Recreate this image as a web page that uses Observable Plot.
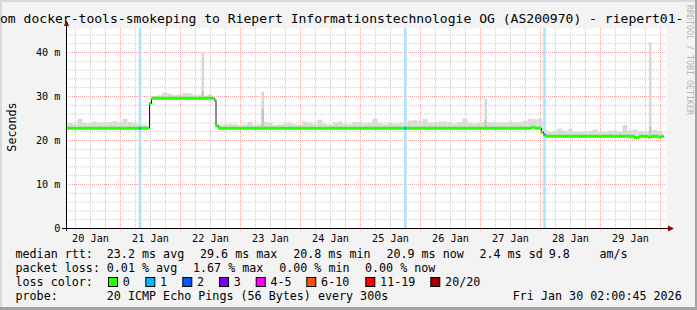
<!DOCTYPE html>
<html><head><meta charset="utf-8">
<script src="https://cdn.jsdelivr.net/npm/d3@7"></script>
<script src="https://cdn.jsdelivr.net/npm/@observablehq/plot@0.6"></script>
<style>
html,body{margin:0;padding:0;background:#f3f3f3;}
#chart{width:697px;height:310px;overflow:hidden;position:relative;}
svg{display:block;}
</style></head><body><div id="chart"></div>
<script>
// ---------- data ----------
const T0 = Date.UTC(2026, 0, 20, 0, 0, 0);      // 20 Jan 00:00
const HOUR = 3600e3;
const hour = h => new Date(T0 + h * HOUR);

const titleText = "om docker-tools-smokeping to Riepert Informationstechnologie OG (AS200970) - riepert01-";
const yAxisTitle = "Seconds";
const dayLabels = ["20 Jan","21 Jan","22 Jan","23 Jan","24 Jan","25 Jan","26 Jan","27 Jan","28 Jan","29 Jan"];
const yTickValues = [0, 10, 20, 30, 40];
const yTickLabels = ["0", "10 m", "20 m", "30 m", "40 m"];

// median rtt (ms) change points, hours after 20 Jan 00:00
const medianHours  = [2.4, 35.6, 36.4, 61.6, 62.2, 63.2, 188.4, 190.0, 192.4, 193.2, 194.2, 229.6, 231.6, 235.2, 236.4, 239.6, 240.4, 241.4];
const medianValues = [22.8, 28.4, 29.6, 29.1, 23.3, 22.8, 23.0, 22.8, 21.9, 21.3, 20.95, 20.65, 20.95, 20.75, 20.95, 20.7, 20.95, 20.95];

// packet loss events (hour start, lost pings)
const lossHours = [31.5, 137.6, 193.3];
const lossCounts = [1, 1, 1];

// smoke: upper ping rtt per 2-hour bin starting at hour 3
const smokeStartHour = 3, smokeBinHours = 2;
const smokeTop = [
  23.9,23.6,24.8,23.9,23.8,24.2,23.9,24.0,24.1,24.3,24.0,24.8,24.0,23.8,23.6,23.5,28.6,
  30.0,30.2,30.8,30.5,30.2,30.4,30.7,30.6,30.2,30.3,30.1,30.4,29.4,
  23.6,23.5,23.7,23.6,23.3,23.5,24.0,23.4,23.6,24.2,24.0,23.4,23.5,23.7,23.9,23.6,23.4,24.2,24.0,23.6,
  24.6,23.7,23.5,24.0,24.2,23.7,23.6,24.1,24.0,23.7,23.9,24.9,23.8,23.6,24.0,23.7,23.9,24.0,24.4,24.5,
  24.3,24.8,24.0,23.8,24.2,24.2,24.0,23.7,24.1,24.9,23.9,23.7,24.0,24.1,23.9,24.1,23.8,24.0,24.2,24.0,
  24.1,24.3,24.8,24.7,24.9,22.3,
  21.8,21.9,22.6,22.1,22.5,22.0,21.8,21.9,22.0,22.4,21.9,21.8,22.1,22.2,21.9,23.4,22.2,22.4,22.0,21.8,22.0,22.3,22.0
];
// isolated smoke spikes (hour start, top ms, dense part top ms)
const spikeHours = [56.6, 80.6, 169.8, 235.6];
const spikeTops  = [40.0, 31.0, 29.3, 42.3];
const spikeDense = [31.0, 27.0, 24.6, 23.0];

// legend
const rttStats  = ["23.2 ms avg", "29.6 ms max", "20.8 ms min", "20.9 ms now", "2.4 ms sd"];
const amsValue = "9.8", amsUnit = "am/s";
const lossStats = ["0.01 % avg", "1.67 % max", "0.00 % min", "0.00 % now"];
const lossColorLabels = ["0", "1", "2", "3", "4-5", "6-10", "11-19", "20/20"];
const lossColors = ["#26ff00", "#00b8ff", "#0059ff", "#7e00ff", "#ff00ff", "#ff5500", "#ff0000", "#a10000"];
const probeText = "20 ICMP Echo Pings (56 Bytes) every 300s";
const dateText = "Fri Jan 30 02:00:45 2026";
const watermark = "RRDTOOL / TOBI OETIKER";

// ---------- derived tables ----------
function medianAt(h) {
  let v = medianValues[0];
  for (let i = 0; i < medianHours.length; i++) if (medianHours[i] <= h) v = medianValues[i];
  return v;
}
const medianPts = medianHours.map((h, i) => ({t: hour(h), v: medianValues[i]}));
const medianSegs = medianHours.slice(0, -1).map((h, i) => ({t1: hour(h), t2: hour(medianHours[i + 1]), v: medianValues[i]}));
const lossData = lossHours.map((h, i) => ({t1: hour(h), t2: hour(h + 1), v: medianAt(h + 0.5), c: lossColors[lossCounts[i]]}));
const smoke = smokeTop.map((v, i) => {
  const h = smokeStartHour + i * smokeBinHours;
  return {t1: hour(h), t2: hour(h + smokeBinHours), lo: medianAt(h + smokeBinHours / 2), hi: v};
}).filter(d => d.hi > d.lo);
const spikes = spikeHours.map((h, i) => ({t1: hour(h), t2: hour(h + 1), lo: medianAt(h + 0.5), hi: spikeTops[i], dense: spikeDense[i]}));

const noonTicks = dayLabels.map((_, i) => hour(12 + 24 * i));
const majorX = d3.range(24, 241, 24).map(hour);
const minorX = d3.range(6, 241, 6).filter(h => h % 24 !== 0).map(hour);
const majorY = [10, 20, 30, 40];
const minorY = d3.range(2, 46, 2).filter(v => v % 10 !== 0);

// ---------- plot ----------
const mono = "'DejaVu Sans Mono', monospace";
const gridMinor = "#cbcbcb", gridMajor = "#f3a6a6";
const plot = Plot.plot({
  width: 697, height: 310,
  marginTop: 28, marginBottom: 82, marginLeft: 66, marginRight: 31,
  style: {background: "transparent", fontFamily: mono, fontSize: "10.2px", color: "#000", overflow: "visible"},
  x: {type: "utc", domain: [hour(2.4), hour(242.4)]},
  y: {domain: [0, 45.45]},
  color: {type: "identity"},
  marks: [
    Plot.frame({fill: "#ffffff", stroke: "none"}),
    Plot.ruleY(minorY, {stroke: gridMinor, strokeDasharray: "1,1"}),
    Plot.ruleX(minorX, {stroke: gridMinor, strokeDasharray: "1,1", insetBottom: -3}),
    Plot.ruleY(majorY, {stroke: gridMajor, strokeDasharray: "1,1"}),
    Plot.ruleX(majorX, {stroke: gridMajor, strokeDasharray: "1,1", insetBottom: -3}),
    Plot.rect(lossData, {x1: "t1", x2: "t2", fill: "#a6e4fb"}),
    Plot.rect(smoke, {x1: "t1", x2: "t2", y1: "lo", y2: "hi", fill: "#dadada"}),
    Plot.rect(spikes, {x1: "t1", x2: "t2", y1: "lo", y2: "hi", fill: "#d8d8d8"}),
    Plot.rect(spikes, {x1: "t1", x2: "t2", y1: "lo", y2: "dense", fill: "#c6c6c6"}),
    Plot.line(medianPts, {x: "t", y: "v", curve: "step-after", stroke: "#1e1e1e", strokeWidth: 1}),
    Plot.ruleY(medianSegs, {y: "v", x1: "t1", x2: "t2", stroke: lossColors[0], strokeWidth: 3}),
    Plot.ruleY(lossData, {y: "v", x1: "t1", x2: "t2", stroke: "c", strokeWidth: 3}),
    Plot.ruleY([0], {stroke: "#000", insetLeft: -4, insetRight: -2}),
    Plot.ruleX([hour(2.4)], {stroke: "#000", insetTop: -2, insetBottom: -3}),
    Plot.axisX(noonTicks, {tickSize: 0, tickPadding: 6, label: null,
      tickFormat: d => dayLabels[Math.round((d - hour(12)) / (24 * HOUR))]}),
    Plot.axisY(yTickValues, {tickSize: 0, tickPadding: 6, label: null,
      tickFormat: d => yTickLabels[yTickValues.indexOf(d)]})
  ]
});
document.getElementById("chart").appendChild(plot);

// ---------- decorations, title, legend ----------
const svg = d3.select(plot);
// frame shading
svg.append("rect").attr("x", 0).attr("y", 0).attr("width", 697).attr("height", 2).attr("fill", "#d9d9d9");
svg.append("rect").attr("x", 0).attr("y", 0).attr("width", 2).attr("height", 310).attr("fill", "#d9d9d9");
svg.append("rect").attr("x", 695).attr("y", 0).attr("width", 2).attr("height", 310).attr("fill", "#a3a3a3");
svg.append("rect").attr("x", 0).attr("y", 307).attr("width", 697).attr("height", 3).attr("fill", "#a3a3a3");
// arrows
svg.append("path").attr("d", "M63.8,26 L66.5,20.5 L69.2,26 Z").attr("fill", "#8f0000");
svg.append("path").attr("d", "M668,225.6 L674,228.5 L668,231.4 Z").attr("fill", "#8f0000");

function text(x, y, s, size, opts = {}) {
  const t = svg.append("text").attr("x", x).attr("y", y)
    .attr("font-family", mono).attr("font-size", size)
    .attr("fill", opts.fill || "#000").attr("xml:space", "preserve")
    .attr("text-anchor", opts.anchor || "start")
    .style("white-space", "pre").text(s);
  if (opts.transform) t.attr("transform", opts.transform);
  return t;
}
// title
text(0, 23, titleText, 13.05);
// y axis title
text(0, 0, yAxisTitle, 11.7, {anchor: "middle", transform: "translate(15.5,127) rotate(-90)"});
// watermark
text(0, 0, watermark, 8.3, {fill: "#b4b4b4", transform: "translate(686.5,5) rotate(90)"});

const L = 11.7;
const rowY = [257.8, 271.8, 285.8, 299.8];
// row 1
text(15.5, rowY[0], "median rtt:", L);
const r1x = [106.8, 200.0, 293.2, 386.4, 479.4];
rttStats.forEach((s, i) => text(r1x[i], rowY[0], s, L));
text(548.8, rowY[0], amsValue, L);
text(599.5, rowY[0], amsUnit, L);
// row 2
text(15.5, rowY[1], "packet loss:", L);
const r2x = [106.8, 193.0, 279.2, 365.0];
lossStats.forEach((s, i) => text(r2x[i], rowY[1], s, L));
// row 3
text(15.5, rowY[2], "loss color:", L);
const boxX = [108.5, 145.8, 182.8, 219.5, 256.2, 306.8, 365.8, 430.8];
lossColorLabels.forEach((s, i) => {
  svg.append("rect").attr("x", boxX[i]).attr("y", 277.5).attr("width", 9).attr("height", 9)
    .attr("fill", lossColors[i]).attr("stroke", "#000").attr("stroke-width", 1);
  text(boxX[i] + 14.3, rowY[2], s, L);
});
// row 4
text(15.5, rowY[3], "probe:", L);
text(106.8, rowY[3], probeText, L);
text(512.8, rowY[3], dateText, L);
</script>
</body></html>
